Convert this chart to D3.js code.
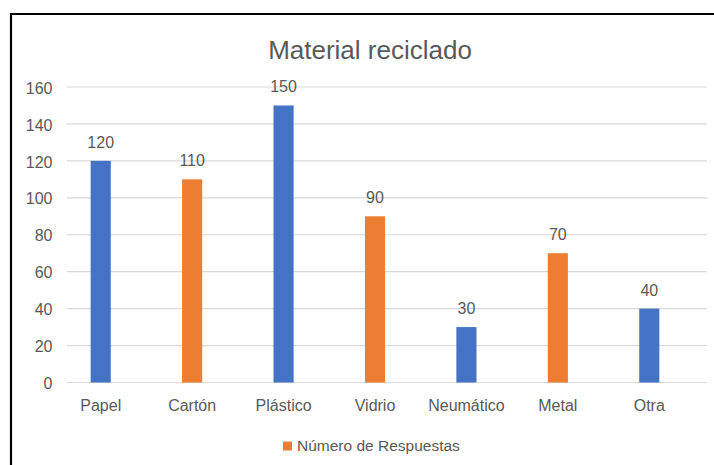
<!DOCTYPE html>
<html><head><meta charset="utf-8">
<script src="https://cdn.jsdelivr.net/npm/d3@7"></script>
<style>body{margin:0;background:#fff;} text{font-family:"Liberation Sans",Arial,sans-serif;fill:#595959;}</style>
</head><body><svg id="c" width="714" height="465"></svg>
<script>
const categories = ["Papel","Cartón","Plástico","Vidrio","Neumático","Metal","Otra"];
const values = [120,110,150,90,30,70,40];
const barColors = ["#4472C4","#ED7D31","#4472C4","#ED7D31","#4472C4","#ED7D31","#4472C4"];
const yTicks = [0,20,40,60,80,100,120,140,160];
const title = "Material reciclado";
const seriesName = "Número de Respuestas";

const svg = d3.select("#c");
svg.append("rect").attr("x",0).attr("y",0).attr("width",714).attr("height",465).attr("fill","#fff");
svg.append("path").attr("d","M11,465 L11,14 L714,14").attr("fill","none").attr("stroke","#000").attr("stroke-width",2.2);

const x = d3.scaleBand().domain(categories).range([55,695]).paddingInner(0.78).paddingOuter(0.39);
const y = d3.scaleLinear().domain([0,160]).range([382.5,87]);

svg.append("text").attr("x",370).attr("y",59).attr("text-anchor","middle")
  .style("font-size","26px").text(title);

const grid = svg.append("g");
grid.selectAll("line").data(yTicks).join("line")
  .attr("x1",67).attr("x2",707).attr("y1",d=>y(d)).attr("y2",d=>y(d))
  .attr("stroke","#D9D9D9").attr("stroke-width",1.2);

const yAxis = d3.axisLeft(y).tickValues(yTicks).tickSize(0).tickPadding(0);
const ya = svg.append("g").attr("transform","translate(52.5,1)").call(yAxis);
ya.select(".domain").remove();
ya.selectAll("text").style("font-size","16px").attr("fill","#595959").attr("font-family","Liberation Sans, Arial, sans-serif");

const xAxis = d3.axisBottom(x).tickSize(0).tickPadding(0);
const xa = svg.append("g").attr("transform","translate(0,400)").call(xAxis);
xa.select(".domain").remove();
xa.selectAll("text").style("font-size","16px").attr("fill","#595959").attr("font-family","Liberation Sans, Arial, sans-serif");

svg.append("g").selectAll("rect").data(values).join("rect")
  .attr("x",(d,i)=>x(categories[i])).attr("width",x.bandwidth())
  .attr("y",d=>y(d)).attr("height",d=>y(0)-y(d))
  .attr("fill",(d,i)=>barColors[i]);

svg.append("g").selectAll("text").data(values).join("text")
  .attr("x",(d,i)=>x(categories[i])+x.bandwidth()/2).attr("y",d=>y(d)-13)
  .attr("text-anchor","middle").style("font-size","16px").text(d=>d);

const lg = svg.append("g");
lg.append("rect").attr("x",283).attr("y",441.5).attr("width",9).attr("height",9).attr("fill","#ED7D31");
lg.append("text").attr("x",297).attr("y",450.5).style("font-size","15.5px").text(seriesName);
</script></body></html>
